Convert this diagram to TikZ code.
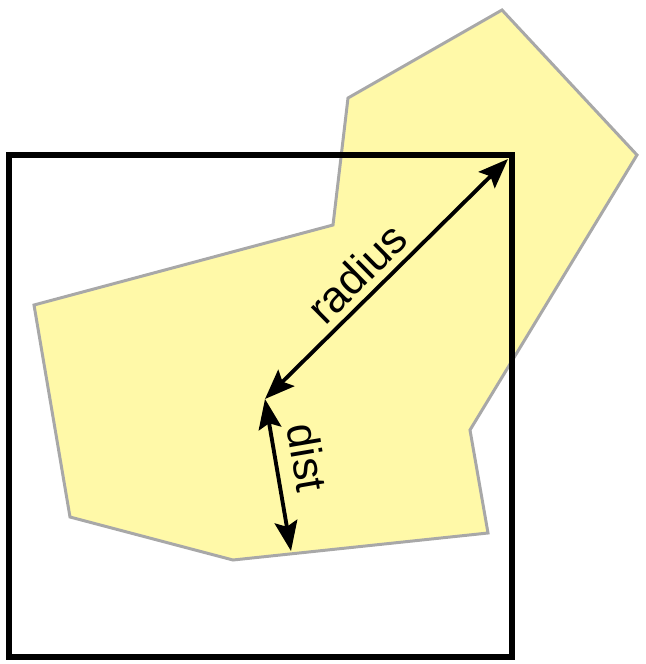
\documentclass[tikz,border=0pt]{standalone}
\usepackage{fontspec}
\setmainfont{Liberation Sans}
\usetikzlibrary{arrows.meta}
\definecolor{shapefill}{RGB}{255,249,168}
\definecolor{shapeline}{RGB}{168,168,168}

\begin{document}
\begin{tikzpicture}[x=0.02cm, y=-0.02cm,
    measure/.style={line width=2.2pt, {Stealth[length=17pt,width=13pt,inset=3pt]}-{Stealth[length=17pt,width=13pt,inset=3pt]}},
    lbl/.style={font=\fontsize{25}{30}\selectfont, sloped, above, inner sep=4pt}]
  \useasboundingbox (0,0) rectangle (646,664);
  \filldraw [fill=shapefill, draw=shapeline, line width=1.7pt]
    (502,10) -- (637,155) -- (470,430) -- (488,533) -- (233,560) -- (70,517)
    -- (34,305) -- (333,225) -- (348,98) -- cycle;
  \draw [line width=3.6pt] (9,155) rectangle (512,657);
  \coordinate (C) at (265,399);
  \coordinate (CR) at (508,159);
  \coordinate (F) at (291,551);
  \draw [measure] (C) -- node [lbl, pos=0.45] {radius} (CR);
  \draw [measure] (C) -- node [lbl, pos=0.42, inner sep=8pt] {dist} (F);
\end{tikzpicture}
\end{document}
